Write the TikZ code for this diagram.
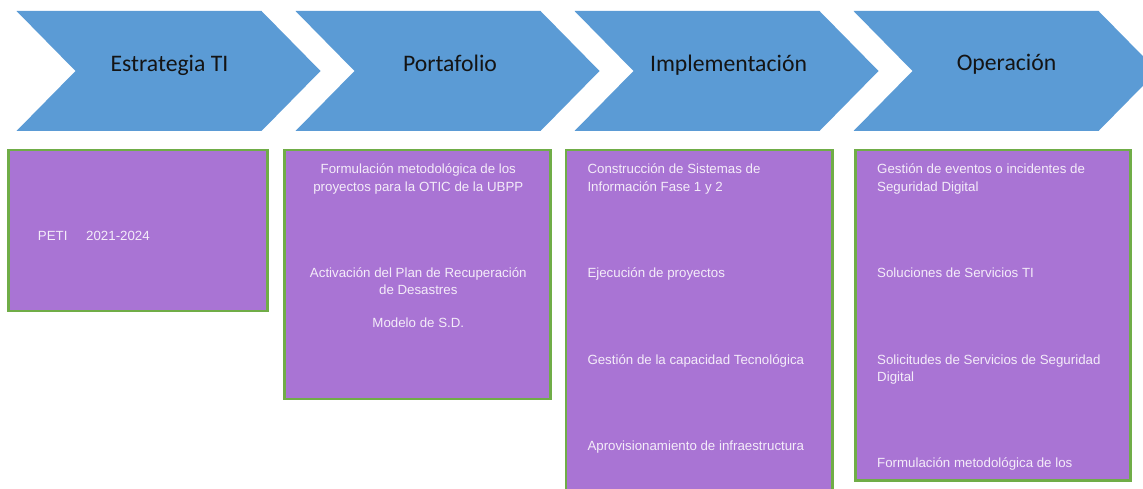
\documentclass[tikz,border=0pt]{standalone}
\usepackage{fontspec}
\setmainfont{Liberation Sans}
\newfontfamily\chevfont{Carlito}
\definecolor{chevblue}{HTML}{5B9BD5}
\definecolor{boxpurple}{HTML}{A974D4}
\definecolor{boxgreen}{HTML}{70AD47}
\definecolor{boxtext}{HTML}{F4ECF9}
\definecolor{labtext}{HTML}{141414}
\begin{document}
\begin{tikzpicture}[x=1pt,y=-1pt,
  chev/.style={fill=chevblue},
  chevlabel/.style={anchor=base,inner sep=0pt,text=labtext,font=\chevfont\fontsize{23.7}{28}\selectfont},
  panel/.style={fill=boxpurple,draw=boxgreen,line width=2.4pt},
  itemc/.style={anchor=base,inner sep=0pt,text=boxtext,font=\fontsize{13.3}{17.3}\selectfont},
  iteml/.style={anchor=base west,inner sep=0pt,text=boxtext,font=\fontsize{13.3}{17.3}\selectfont}]
\useasboundingbox (0,0) rectangle (1143,489);
\clip (0,0) rectangle (1143,489);
% chevrons
\foreach \L in {16.5,295.5,574.5,853.5}{
  \fill[chev] (\L,11) -- (\L+245,11) -- (\L+304,71) -- (\L+245,131) -- (\L,131) -- (\L+59,71) -- cycle;
}
\node[chevlabel] (l1) at (169.5,71.5) {Estrategia TI};
\node[chevlabel] (l2) at (450,71.5) {Portafolio};
\node[chevlabel] (l3) at (728.5,71.5) {Implementación};
\node[chevlabel] (l4) at (1006.5,70.5) {Operación};
% panels
\draw[panel] (8.5,150) rectangle (267.5,311);
\draw[panel] (284.5,150) rectangle (550.5,399);
\draw[panel] (566,150) rectangle (832.5,500);
\draw[panel] (855.5,150) rectangle (1130.5,480.5);
% box 1
\node[iteml] (p1) at (37.7,240.5) {PETI};
\node[iteml] (p2) at (86,240.5) {2021-2024};
% box 2
\node[itemc] (b2a) at (418.3,174) {Formulación metodológica de los};
\node[itemc] (b2b) at (418.3,191.5) {proyectos para la OTIC de la UBPP};
\node[itemc] (b2c) at (418.3,277) {Activación del Plan de Recuperación};
\node[itemc] (b2d) at (418.3,294) {de Desastres};
\node[itemc] (b2e) at (418.3,327.5) {Modelo de S.D.};
% box 3
\node[iteml] (b3a) at (587.3,174) {Construcción de Sistemas de};
\node[iteml] (b3b) at (587.3,191.5) {Información Fase 1 y 2};
\node[iteml] (b3c) at (587.3,277) {Ejecución de proyectos};
\node[iteml] (b3d) at (587.3,364) {Gestión de la capacidad Tecnológica};
\node[iteml] (b3e) at (587.3,450) {Aprovisionamiento de infraestructura};
% box 4
\node[iteml] (b4a) at (877,174) {Gestión de eventos o incidentes de};
\node[iteml] (b4b) at (877,191.5) {Seguridad Digital};
\node[iteml] (b4c) at (877,277) {Soluciones de Servicios TI};
\node[iteml] (b4d) at (877,364) {Solicitudes de Servicios de Seguridad};
\node[iteml] (b4e) at (877,381) {Digital};
\node[iteml] (b4f) at (877,467) {Formulación metodológica de los};
\end{tikzpicture}
\end{document}
